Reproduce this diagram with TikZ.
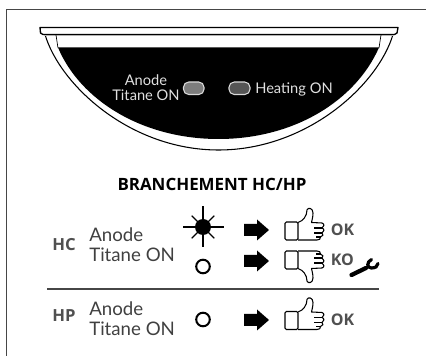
\documentclass[tikz,border=0pt]{standalone}
\usepackage{fontspec}
\setmainfont{Open Sans}
\newfontfamily\lampfont{Lato}
\usetikzlibrary{arrows.meta,calc,positioning}
\definecolor{framegray}{RGB}{70,70,70}
\definecolor{textgray}{RGB}{64,64,64}
\definecolor{tagray}{RGB}{80,80,80}
\definecolor{ledleft}{RGB}{125,125,125}
\definecolor{ledright}{RGB}{85,85,85}
\tikzset{
  panellabel/.style={text=white!88!black,font=\lampfont\fontsize{11}{11.5}\selectfont,inner sep=0pt},
  lamplabel/.style={text=textgray,font=\lampfont\fontsize{14}{15}\selectfont,align=left,anchor=west,inner sep=0pt},
  hctag/.style={text=tagray,font=\bfseries\fontsize{12.5}{13}\selectfont,inner sep=0pt},
  oktag/.style={text=tagray,font=\bfseries\fontsize{12}{12}\selectfont,anchor=west,inner sep=0pt},
  ledshape/.style={draw=white!85!black,line width=0.8pt,rounded corners=3.9pt},
  ringlamp/.style={draw=black,line width=1.5pt},
  thumb/.pic={
    \draw[line width=0.8pt,fill=white,rounded corners=1pt] (-13,-9) rectangle (0,9);
    \draw[line width=0.8pt,line join=round]
      (0,-8.5) .. controls (5,-10) and (9,-15) .. (9,-21)
      .. controls (10,-24) and (15,-23) .. (15,-18)
      .. controls (15,-14) and (14,-11) .. (13.5,-8.5)
      -- (24,-8) .. controls (27,-7) and (26,-4) .. (24,-3)
      .. controls (27,-2) and (26,1) .. (24,2)
      .. controls (26,3) and (25,5.5) .. (22.5,6)
      .. controls (23,8) and (21,9) .. (19,9) -- (0,9);
    \draw[line width=0.8pt] (16,-3) -- (24,-3) (16,2) -- (24,2) (18,6) -- (22.5,6);
  },
  blockarrow/.pic={
    \fill (-12.5,-6) -- (0.5,-6) -- (0.5,-10.5) -- (12.5,0) -- (0.5,10.5) -- (0.5,6) -- (-12.5,6) -- cycle;
  }
}
\begin{document}
\begin{tikzpicture}[x=0.75pt,y=-0.75pt]
  \useasboundingbox (0,0) rectangle (426,356);
  % frame, left and top only
  \draw[framegray,line width=0.9pt] (6.5,356) -- (6.5,9.5) -- (426,9.5);
  % control panel
  \draw[line width=0.8pt,fill=white] (45,34.5) .. controls (60,85) and (130,150) .. (218.5,150)
    .. controls (307,150) and (378,85) .. (393,34.5);
  \draw[line width=1pt,fill=white,line join=round] (40,27.5) -- (398,27.5) -- (397,33) -- (394.5,34.5) -- (43,34.5) -- (40.5,33) -- cycle;
  \draw[gray!60,line width=0.5pt] (44,35) -- (394,35);
  \draw[line width=0.5pt] (56,35) -- (58,48) (381,35) -- (379,48);
  \fill (58,47.5) -- (379,47.5) .. controls (356,100) and (295,139) .. (218.5,139)
    .. controls (142,139) and (80,100) .. cycle;
  \node[panellabel,align=center] (anodepanel) at (146,87.5) {Anode\\Titane ON};
  \node[panellabel,anchor=west] (heatingpanel) at (255,89) {Heating ON};
  \draw[ledshape,fill=ledleft] (183.5,82) rectangle (204,94.5);
  \draw[ledshape,fill=ledright] (229,82) rectangle (250,94.5);
  % title
  \node[font=\bfseries\fontsize{12.7}{14}\selectfont,inner sep=0pt] (title) at (212,184) {BRANCHEMENT HC/HP};
  % rows
  \node[hctag] (hc) at (64,245) {HC};
  \node[hctag] (hp) at (64,316) {HP};
  \node[lamplabel] (lamphc) at (89,245) {Anode\\Titane ON};
  \node[lamplabel] (lamphp) at (89,319) {Anode\\Titane ON};
  \draw[framegray,line width=0.8pt] (47,289) -- (379,289);
  % lamps
  \fill (203,227) circle (8);
  \foreach \ang/\len in {0/20.5,45/16,90/20.5,135/16,180/20.5,225/16,270/20.5,315/16}{
    \draw[line width=0.9pt] (203,227) -- ++(\ang:\len);
  }
  \draw[ringlamp] (203,266.5) circle (6.8);
  \draw[ringlamp] (203,319.5) circle (6.8);
  % arrows and hands
  \foreach \yy in {230,261,320}{
    \pic at (256.5,\yy) {blockarrow};
  }
  \pic at (298,231) {thumb};
  \pic at (298,320.5) {thumb};
  \pic[yscale=-1] at (298,260) {thumb};
  \node[oktag] (okhc) at (330.5,230) {OK};
  \node[oktag] (kohc) at (330.5,260) {KO};
  \node[oktag] (okhp) at (330.5,320) {OK};
  % spanner
  \draw[line width=3.2pt,line cap=round] (351.5,275) -- (366,268);
  \draw[line width=2.4pt,line cap=round] (371.5,259.5) .. controls (366.5,262) and (366.5,268) .. (371.5,268)
    .. controls (375,268) and (378,266.5) .. (378,263.5);
\end{tikzpicture}
\end{document}
